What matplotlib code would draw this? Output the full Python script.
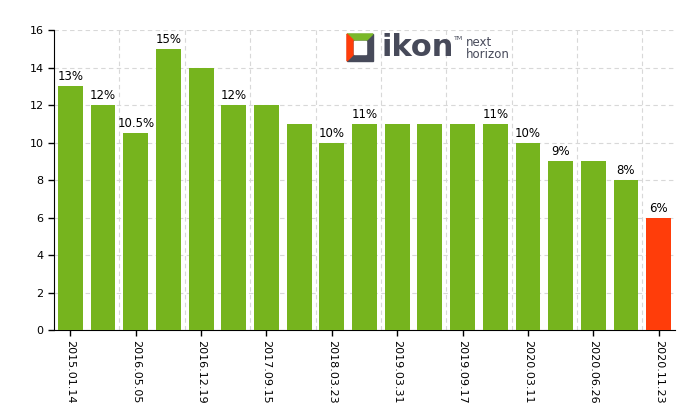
import matplotlib.pyplot as plt
from matplotlib.patches import Rectangle, Polygon

values = [13, 12, 10.5, 15, 14, 12, 12, 11, 10, 11, 11, 11, 11, 11, 10, 9, 9, 8, 6]
labels = ['13%', '12%', '10.5%', '15%', '', '12%', '', '', '10%', '11%', '', '', '', '11%', '10%', '9%', '', '8%', '6%']
dates = ['2015.01.14', '2016.05.05', '2016.12.19', '2017.09.15', '2018.03.23',
         '2019.03.31', '2019.09.17', '2020.03.11', '2020.06.26', '2020.11.23']

green = '#76b41e'
red = '#ff3d0a'

fig = plt.figure(figsize=(6.99, 4.19), dpi=100)
ax = fig.add_axes([0.0773, 0.2124, 0.8884, 0.716])

x = list(range(len(values)))
colors = [green] * (len(values) - 1) + [red]
bars = ax.bar(x, values, width=0.76, color=colors, zorder=3)
for b, lab in zip(bars, labels):
    if lab:
        ax.text(b.get_x() + b.get_width() / 2, b.get_height() + 0.15, lab,
                ha='center', va='bottom', fontsize=8.5, color='black', zorder=4)

ax.set_xlim(-0.5, 18.5)
ax.set_ylim(0, 16)
ax.set_yticks(range(0, 17, 2))
ax.set_xticks(x[::2])
ax.set_xticklabels(dates, rotation=270, fontsize=8)
ax.set_xticks([i + 0.5 for i in range(1, 18, 2)], minor=True)
ax.tick_params(axis='x', which='minor', length=0)
ax.tick_params(axis='both', which='major', labelsize=8, length=4, width=1)
ax.grid(axis='y', color='#d8d8d8', linestyle=(0, (4, 3)), linewidth=0.8, zorder=0)
ax.grid(axis='x', which='minor', color='#d8d8d8', linestyle=(0, (4, 3)), linewidth=0.8, zorder=0)
ax.spines['top'].set_visible(False)
ax.spines['right'].set_visible(False)

# logo
W, H = 699, 419
def fx(px):
    return px / W
def fy(py):
    return 1 - py / H

lx0, lx1, ly0, ly1 = 347, 373, 34, 61
fig.patches.append(Rectangle((fx(lx0), fy(ly1)), fx(lx1) - fx(lx0), fy(ly0) - fy(ly1),
                             transform=fig.transFigure, color='#474a5a', zorder=5))
fig.patches.append(Polygon([(fx(lx0), fy(ly0)), (fx(lx1), fy(ly0)), (fx(lx1 - 6), fy(ly0 + 6)), (fx(lx0 + 6), fy(ly0 + 6))],
                           closed=True, transform=fig.transFigure, color='#7ab829', zorder=6))
fig.patches.append(Polygon([(fx(lx0), fy(ly0)), (fx(lx0 + 6), fy(ly0 + 6)), (fx(lx0 + 6), fy(ly1 - 6)), (fx(lx0), fy(ly1))],
                           closed=True, transform=fig.transFigure, color='#ff3d0a', zorder=6))
fig.patches.append(Rectangle((fx(lx0 + 7), fy(ly1 - 7)), fx(lx1 - 7) - fx(lx0 + 7), fy(ly0 + 7) - fy(ly1 - 7),
                             transform=fig.transFigure, color='white', zorder=7))
fig.text(fx(381), fy(47), 'ikon', fontsize=22, fontweight='bold', color='#474a5a', ha='left', va='center',
         family='DejaVu Sans Condensed', zorder=8)
fig.text(fx(454), fy(38), 'TM', fontsize=4.5, color='#474a5a', ha='left', va='center')
fig.text(fx(466), fy(42), 'next', fontsize=8.5, color='#474a5a', ha='left', va='center',
         family='DejaVu Sans Condensed')
fig.text(fx(466), fy(55), 'horizon', fontsize=8.5, color='#474a5a', ha='left', va='center',
         family='DejaVu Sans Condensed')

fig.savefig('out.png', dpi=100)
